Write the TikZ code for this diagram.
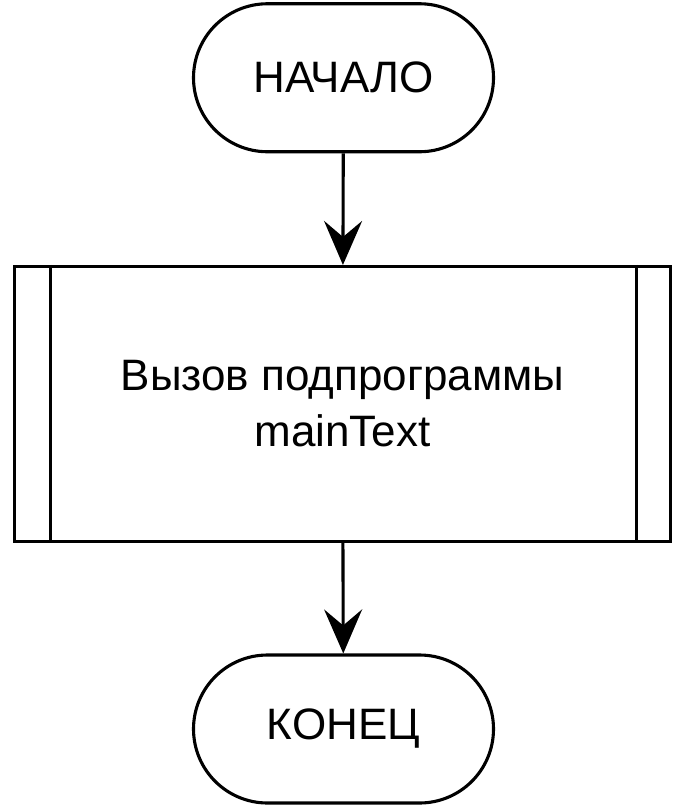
\documentclass[tikz,border=0pt]{standalone}
\usepackage{fontspec}
\setmainfont{Liberation Sans}
\usetikzlibrary{arrows.meta}
\tikzset{
  term/.style={draw, line width=3.1pt, rounded corners=74pt, minimum width=300pt, minimum height=148pt, inner sep=0pt, font=\fontsize{44}{52}\selectfont},
  subr/.style={draw, line width=3.1pt, minimum width=656pt, minimum height=275pt, inner sep=0pt, align=center, font=\fontsize{44}{56}\selectfont},
  flow/.style={line width=3.1pt, -{Stealth[length=44pt,width=38pt,inset=16pt]}},
}
\begin{document}
\begin{tikzpicture}[x=1pt,y=-1pt]
\useasboundingbox (0,0) rectangle (683,806);
\node[term] (start) at (343.5,77.75) {НАЧАЛО};
\node[subr] (call) at (342.5,404) {Вызов подпрограммы\\mainText};
\draw[line width=3.1pt] ([xshift=37.5pt]call.north west) -- ([xshift=37.5pt]call.south west);
\draw[line width=3.1pt] ([xshift=-35.5pt]call.north east) -- ([xshift=-35.5pt]call.south east);
\node[term] (stop) at (343.5,729) {КОНЕЦ};
\draw[flow] (start) -- (call);
\draw[flow] (call) -- (stop);
\end{tikzpicture}
\end{document}
